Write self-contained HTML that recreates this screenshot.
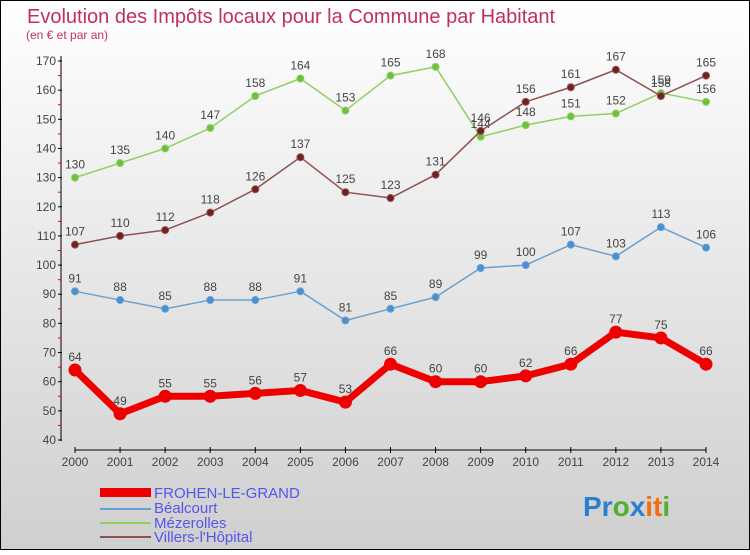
<!DOCTYPE html>
<html><head><meta charset="utf-8"><style>
body{margin:0;width:750px;height:550px;overflow:hidden;font-family:"Liberation Sans",sans-serif}
</style></head><body>
<svg width="750" height="550" xmlns="http://www.w3.org/2000/svg">
<defs><linearGradient id="bg" x1="0" y1="0" x2="0" y2="1"><stop offset="0" stop-color="#ffffff"/><stop offset="1" stop-color="#cfcfcf"/></linearGradient></defs>
<rect x="0.5" y="0.5" width="749" height="549" fill="url(#bg)" stroke="#000"/>
<text x="27" y="23" font-size="20" fill="#c0305a">Evolution des Impôts locaux pour la Commune par Habitant</text>
<text x="26" y="39" font-size="12" fill="#c0305a">(en € et par an)</text>
<g id="axes"></g><g id="series"></g>
<g font-size="15" fill="#5555ee">
<rect x="100" y="488" width="51" height="9" fill="#e00"/>
<text x="154" y="498">FROHEN-LE-GRAND</text>
<rect x="100" y="508" width="51" height="2" fill="#6aa0d0"/>
<text x="154" y="513">Béalcourt</text>
<rect x="100" y="522" width="51" height="2" fill="#8fd060"/>
<text x="154" y="528">Mézerolles</text>
<rect x="100" y="536" width="51" height="2" fill="#905050"/>
<text x="154" y="542">Villers-l'Hôpital</text>
</g>
<text x="583" y="516" font-size="28" font-weight="bold"><tspan fill="#2a7fd0">Pr</tspan><tspan fill="#50b030">o</tspan><tspan fill="#2a7fd0">x</tspan><tspan fill="#f07010">it</tspan><tspan fill="#50b030">i</tspan></text>
</svg>
<script>
const years=[2000,2001,2002,2003,2004,2005,2006,2007,2008,2009,2010,2011,2012,2013,2014];
const yTicks=[40,50,60,70,80,90,100,110,120,130,140,150,160,170];
const frohen=[64,49,55,55,56,57,53,66,60,60,62,66,77,75,66];
const bealcourt=[91,88,85,88,88,91,81,85,89,99,100,107,103,113,106];
const mezerolles=[130,135,140,147,158,164,153,165,168,144,148,151,152,159,156];
const villers=[107,110,112,118,126,137,125,123,131,146,156,161,167,158,165];
const NS="http://www.w3.org/2000/svg";
const X=i=>75+i*(706-75)/(years.length-1);
const Y=v=>440-(v-40)*(440-61)/130;
function mk(t,a,p){const e=document.createElementNS(NS,t);for(const k in a)e.setAttribute(k,a[k]);p.appendChild(e);return e;}
const ax=document.getElementById('axes');
let e=mk('line',{x1:61,y1:56,x2:61,y2:441,stroke:'#000'},ax);


e=mk('line',{x1:75,y1:450,x2:706,y2:450,stroke:'#000'},ax);


yTicks.forEach(v=>{mk('line',{x1:58,y1:Y(v),x2:62,y2:Y(v),stroke:'#000'},ax);
 if(v<170)mk('line',{x1:58,y1:Y(v+5),x2:61,y2:Y(v+5),stroke:'#e00'},ax);
 const t=mk('text',{x:56,y:Y(v)+4,'font-size':12,fill:'#444','text-anchor':'end'},ax);t.textContent=v;
 
 });
years.forEach((y,i)=>{mk('line',{x1:X(i),y1:447,x2:X(i),y2:453,stroke:'#000'},ax);
 const t=mk('text',{x:X(i),y:466,'font-size':12,fill:'#444','text-anchor':'middle'},ax);t.textContent=y;
 
 });
const sg=document.getElementById('series');
function series(d,name,col,dot,w,r){
 const g=mk('g',{},sg);
 
 
 mk('polyline',{points:d.map((v,i)=>X(i)+','+Y(v)).join(' '),fill:'none',stroke:col,'stroke-width':w,'stroke-linejoin':'round'},g);
 d.forEach((v,i)=>{const c=mk('circle',{cx:X(i),cy:Y(v),r:r,fill:dot,stroke:col,'stroke-width':1},g);
  
  
  const t=mk('text',{x:X(i),y:Y(v)-9,'font-size':12,fill:'#444','text-anchor':'middle'},g);t.textContent=v;
  
  });
}
series(bealcourt,'bealcourt','#6aa0d0','#4a90d0',1.5,3.5);
series(mezerolles,'mezerolles','#8fd060','#6cc040',1.5,3.5);
series(villers,'villers','#905050','#702020',1.5,3.5);
series(frohen,'frohen','#ee0000','#ee0000',7,6);
</script>
</body></html>
